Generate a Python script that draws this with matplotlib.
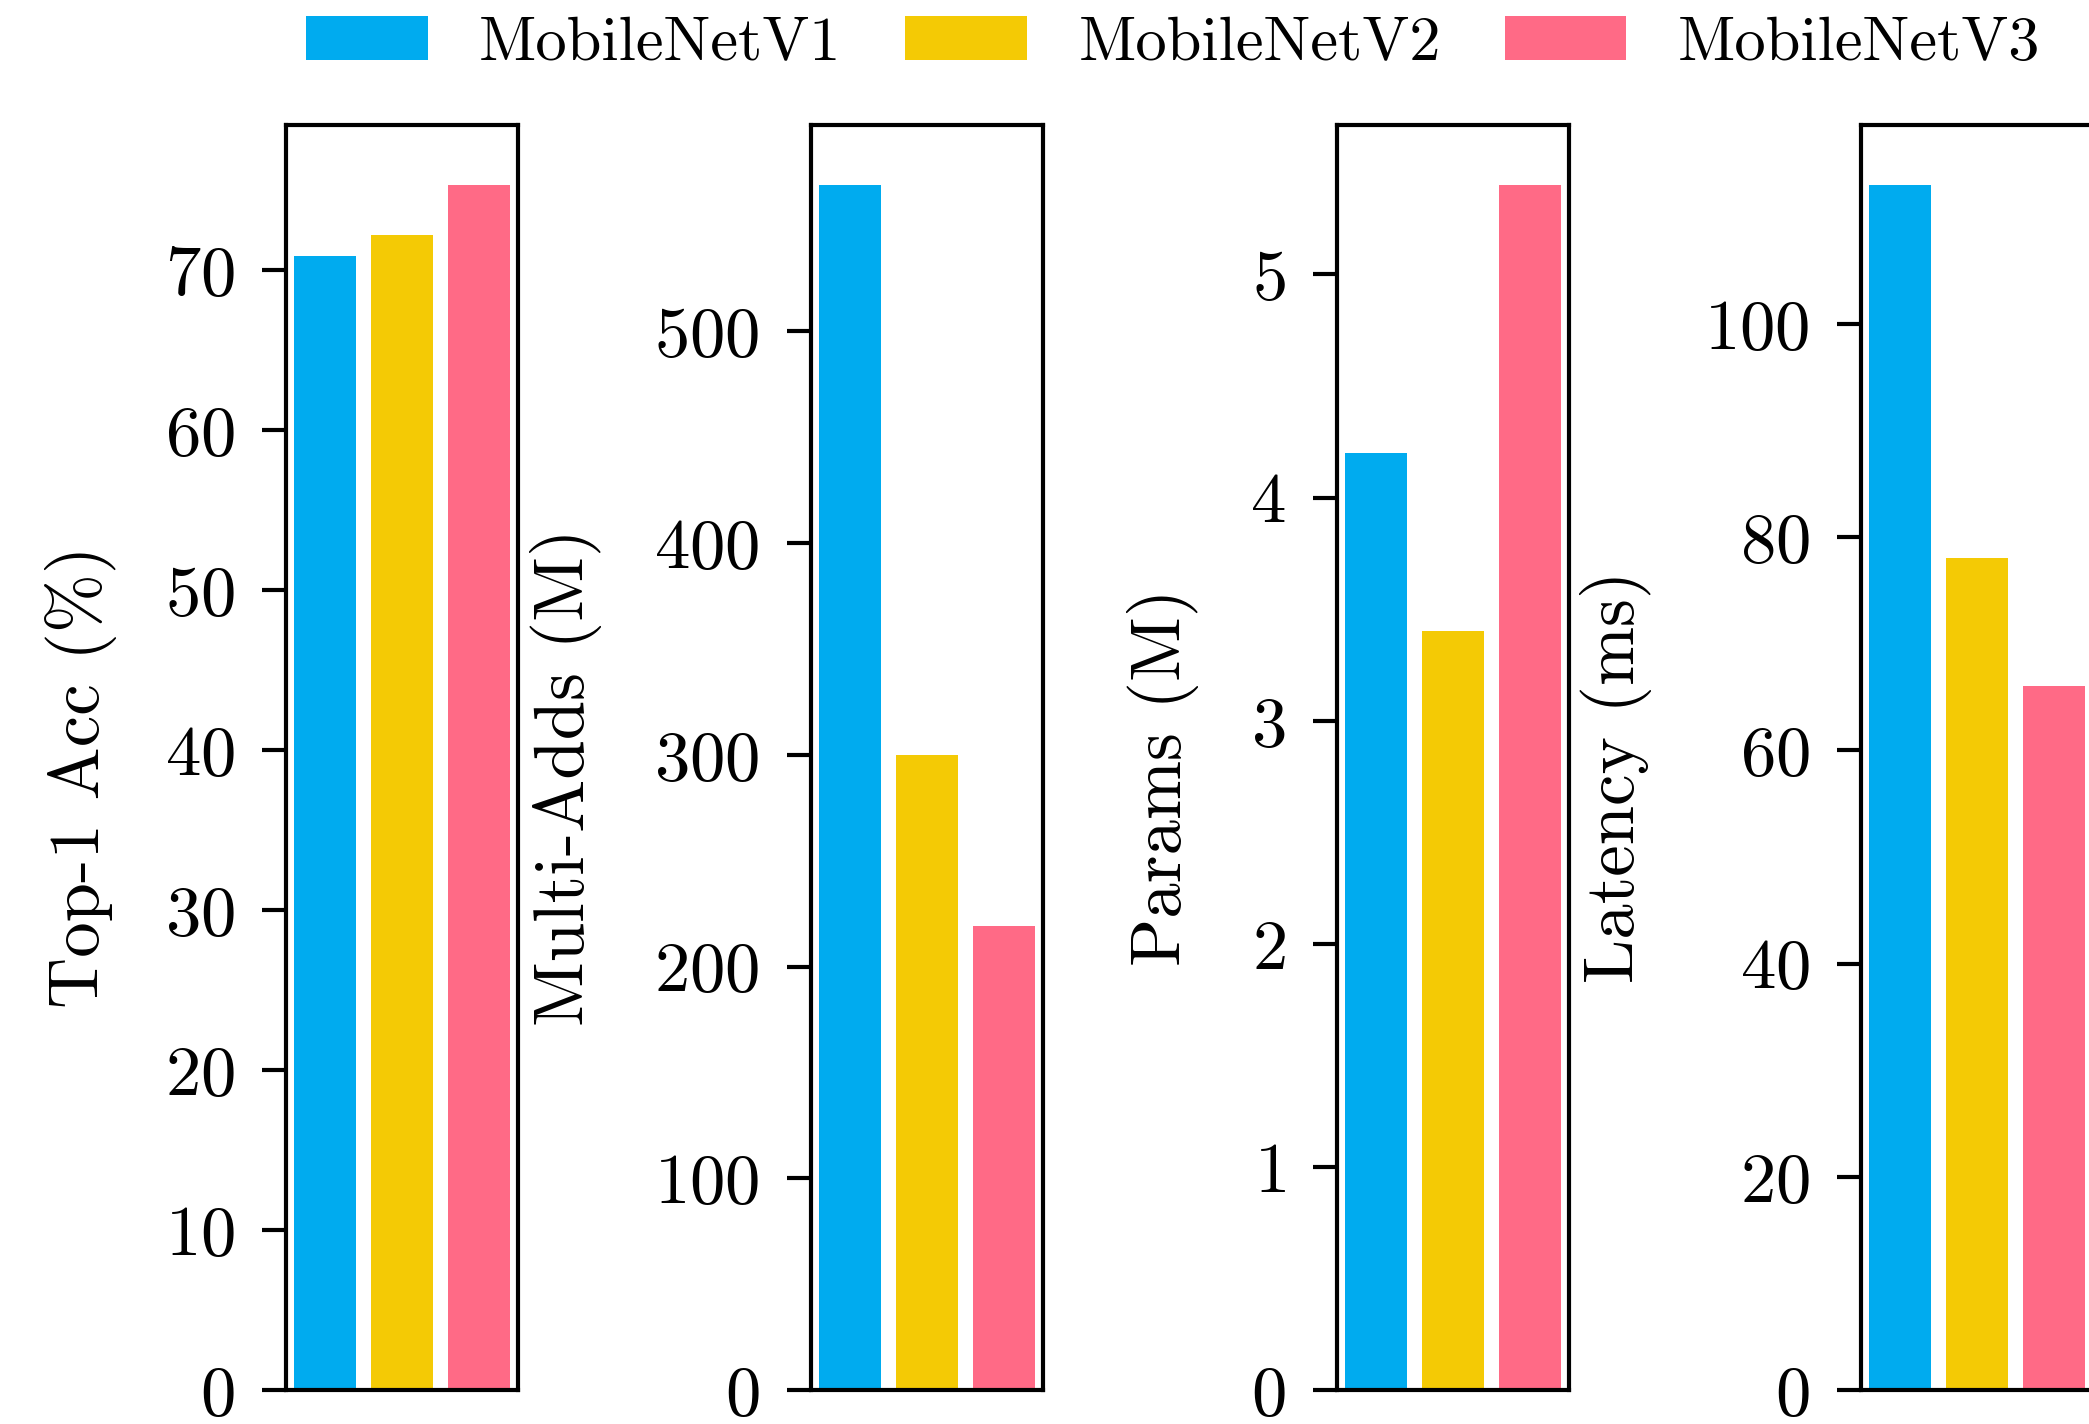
import numpy as np
import matplotlib
matplotlib.use("Agg")
import matplotlib.pyplot as plt
from matplotlib.ticker import MultipleLocator

plt.rcParams['font.family'] = 'serif'
plt.rcParams['font.serif'] = ['cmr10']
plt.rcParams['axes.formatter.use_mathtext'] = True

# MobileNet family comparison
models = ['MobileNetV1', 'MobileNetV2', 'MobileNetV3']
colors = ['#00ABEF', '#F4CA05', '#FF6A86']

top1_acc = [70.9, 72.2, 75.3]
multi_adds = [569, 300, 219]
params = [4.2, 3.4, 5.4]
latency = [113, 78, 66]

panels = [
    (top1_acc, 'Top-1 Acc (%)', 10, -0.884),
    (multi_adds, 'Multi-Adds (M)', 100, -1.056),
    (params, 'Params (M)', 1, -0.75),
    (latency, 'Latency (ms)', 20, -1.056),
]

W, H = 2089, 1424
dpi = 200
fig = plt.figure(figsize=(W / dpi, H / dpi), dpi=dpi)

lefts = [286, 811, 1337, 1861]
ax_w, ax_top, ax_bot = 232, 125, 1390

x = np.arange(len(models))
handles = []
for left, (vals, label, step, lab_x) in zip(lefts, panels):
    ax = fig.add_axes([left / W, 1 - ax_bot / H, ax_w / W, (ax_bot - ax_top) / H])
    bars = ax.bar(x, vals, width=0.8, color=colors)
    handles = bars
    ax.set_xlim(-0.5, 2.5)
    ax.set_ylim(0, max(vals) * 1.05)
    ax.yaxis.set_major_locator(MultipleLocator(step))
    ax.set_xticks([])
    ax.tick_params(axis='y', labelsize=25.5, length=8.5, width=1.5, pad=10, color='black')
    for s in ax.spines.values():
        s.set_linewidth(1.5)
        s.set_color('black')
    ax.set_ylabel(label, fontsize=25.5, va='center')
    ax.yaxis.set_label_coords(lab_x, 0.4846)

fig.legend(handles, models, loc='center', bbox_to_anchor=(0.5615, 1 - 44 / H),
           ncol=3, frameon=False, fontsize=22.5, handlelength=1.95,
           handleheight=0.7, handletextpad=0.82, columnspacing=1.02)

fig.savefig('out.png', dpi=dpi)
